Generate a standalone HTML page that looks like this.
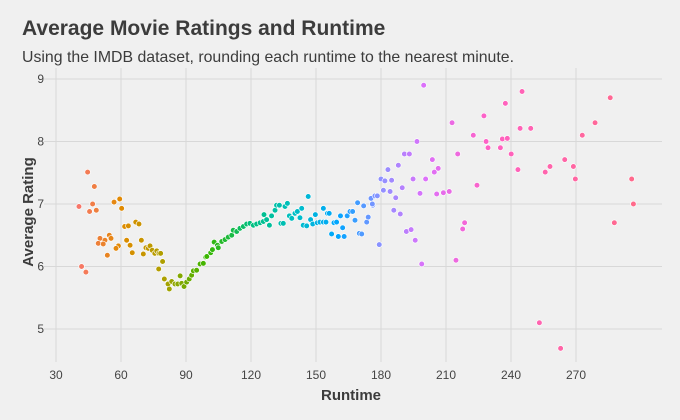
<!DOCTYPE html>
<html><head><meta charset="utf-8"><style>
body{margin:0;background:#f0f0f0;}
svg{display:block;font-family:"Liberation Sans",sans-serif;}
</style></head><body>
<svg id="c" width="680" height="420">
<rect width="680" height="420" fill="#f0f0f0"/>
<text x="22" y="35" font-size="21" font-weight="bold" fill="#3c3c3c">Average Movie Ratings and Runtime</text>
<text x="22" y="62" font-size="16" fill="#3c3c3c" textLength="492" lengthAdjust="spacingAndGlyphs">Using the IMDB dataset, rounding each runtime to the nearest minute.</text>
<g id="grid"></g><g id="pts"></g>
<text x="351" y="400" font-size="15" font-weight="bold" fill="#3c3c3c" text-anchor="middle">Runtime</text>
<text transform="translate(33,212) rotate(-90)" font-size="15" font-weight="bold" fill="#3c3c3c" text-anchor="middle">Average Rating</text>
</svg>
<script>
const xTicks=[30,60,90,120,150,180,210,240,270];
const yTicks=[5,6,7,8,9];
const runtimes=[44.6,47.7,40.6,46.9,45.5,48.6,56.8,59.4,60.3,61.7,63.4,66.8,68.3,50.3,52.6,54.6,55.4,49.5,51.8,58.8,57.7,53.7,62.6,64.2,65.2,69.4,70.3,71.5,72.6,73.4,74.4,75.6,76.5,77.5,78.3,79.2,77.4,41.8,43.8,80,81.7,82.3,83.4,84.9,86.2,87.3,88,89.1,90.3,91.5,92.6,93.4,94.9,96.5,98,99.1,99.6,101.4,102.2,103,104.5,
104.9,106.5,108.0,109.5,111.1,111.8,113.4,114.9,116.5,118.0,119.5,121.1,122.6,124.2,125.7,126.0,127.2,128.5,129.5,131.1,131.8,133.1,133.8,134.9,135.7,136.8,137.7,138.8,140.3,141.4,142.6,143.4,144.1,145.7,146.4,147.5,148.5,149.7,150.6,151.8,153.4,153.4,154.6,155.3,156.1,157.2,158.3,159.5,160.3,161.3,162.3,163.0,164.4,165.7,166.9,168.0,169.2,170.0,171.1,172.0,173.4,174.1,175.4,176.2,177.2,178.3,
199.7,245.1,285.8,237.4,227.5,212.8,278.8,244.2,249.1,222.6,272.9,196.6,228.5,236,238.3,229.4,235.1,190.8,193.1,215.4,240.1,203.7,264.8,258,268.8,188,206.4,183.2,243.2,204.6,255.8,180,181.8,184.9,194.8,200.6,269.7,295.7,224.3,189.8,181.1,184.2,198,205.7,208.8,211.5,186.8,296.5,176,185.9,188.9,218.6,287.7,217.7,191.7,193.9,195.8,179.2,214.6,198.8,253.1,262.9];
const ratings=[7.51,7.28,6.96,7.0,6.88,6.90,7.03,7.08,6.93,6.64,6.65,6.71,6.68,6.45,6.42,6.50,6.45,6.37,6.36,6.33,6.29,6.18,6.42,6.34,6.22,6.42,6.2,6.30,6.29,6.33,6.26,6.21,6.25,6.21,6.21,6.08,5.96,6.0,5.91,5.80,5.72,5.64,5.76,5.72,5.72,5.85,5.73,5.68,5.75,5.80,5.86,5.93,5.94,6.04,6.05,6.15,6.16,6.22,6.27,6.39,6.34,
6.30,6.40,6.43,6.47,6.50,6.58,6.56,6.61,6.64,6.68,6.69,6.66,6.68,6.70,6.72,6.83,6.75,6.66,6.81,6.90,6.98,6.98,6.69,6.69,6.96,7.01,6.81,6.77,6.85,6.88,6.78,6.93,6.66,6.65,7.12,6.75,6.68,6.83,6.70,6.71,6.93,6.71,6.71,6.85,6.85,6.52,6.70,6.71,6.48,6.81,6.62,6.48,6.81,6.88,6.88,6.74,7.02,6.53,6.52,6.97,6.71,6.79,7.09,6.98,7.13,7.13,
8.90,8.80,8.70,8.61,8.41,8.30,8.30,8.21,8.21,8.10,8.10,8.00,8.00,8.04,8.05,7.90,7.90,7.80,7.80,7.80,7.80,7.71,7.71,7.60,7.60,7.62,7.57,7.55,7.55,7.51,7.51,7.40,7.37,7.38,7.40,7.40,7.40,7.40,7.30,7.26,7.22,7.20,7.17,7.16,7.18,7.20,7.10,7.00,7.00,6.90,6.84,6.70,6.70,6.60,6.56,6.59,6.42,6.35,6.10,6.04,5.10,4.69];
const X=r=>56+(r-30)*65/30, Y=v=>79+(9-v)*62.5;
const NS="http://www.w3.org/2000/svg";
const grid=document.getElementById('grid'), pts=document.getElementById('pts');
function mk(tag,at,parent){const e=document.createElementNS(NS,tag);for(const k in at)e.setAttribute(k,at[k]);parent.appendChild(e);return e;}
xTicks.forEach(t=>{
 const l=mk('line',{x1:X(t),x2:X(t),y1:68,y2:362,stroke:'#d8d8d8','stroke-width':1},grid);
 
 
 const tx=mk('text',{x:X(t),y:379,'font-size':12,fill:'#444','text-anchor':'middle'},grid);tx.textContent=t;
 
 
});
yTicks.forEach(t=>{
 const l=mk('line',{x1:44,x2:662,y1:Y(t),y2:Y(t),stroke:'#d8d8d8','stroke-width':1},grid);
 
 
 const tx=mk('text',{x:44,y:Y(t)+4,'font-size':12,fill:'#444','text-anchor':'end'},grid);tx.textContent=t;
 
 
});
const stops=[[40,[248,118,109]],[60,[225,138,0]],[80,[173,160,0]],[100,[57,182,0]],[120,[0,191,125]],[140,[0,191,196]],[160,[0,165,255]],[180,[143,145,255]],[200,[220,113,250]],[230,[255,97,195]],[300,[255,106,136]]];
function col(r){
 if(r<=stops[0][0])return 'rgb('+stops[0][1]+')';
 for(let i=1;i<stops.length;i++){if(r<=stops[i][0]){const a=stops[i-1],b=stops[i],f=(r-a[0])/(b[0]-a[0]);return 'rgb('+a[1].map((v,j)=>Math.round(v+(b[1][j]-v)*f)).join(',')+')';}}
 return 'rgb('+stops[stops.length-1][1]+')';
}
runtimes.forEach((r,i)=>{
 const c=mk('circle',{cx:X(r),cy:Y(ratings[i]),r:2.8,fill:col(r),stroke:'#ffffff','stroke-width':0.6},pts);
 
 
});
</script>
</body></html>
